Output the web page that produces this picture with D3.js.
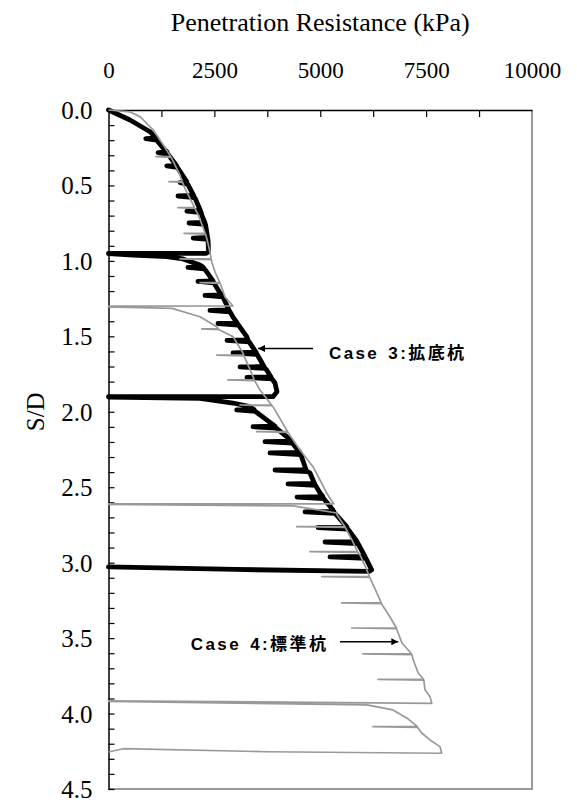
<!DOCTYPE html>
<html>
<head>
<meta charset="utf-8">
<script src="https://cdn.jsdelivr.net/npm/d3@7"></script>
<style>
  body { margin: 0; background: #fff; }
  svg { display: block; }
  .note { font-family: "Liberation Sans", Arial, "Noto Sans CJK JP", sans-serif; font-weight: bold; font-size: 17px; letter-spacing: 2.4px; word-spacing: 2px; }
</style>
</head>
<body>
<svg id="chart" width="577" height="804"></svg>
<script>
// Case 3 (拡底杭): [resistance kPa, S/D]
const case3 = [
  [0, 0], [508, 0.066], [980, 0.144],
  [1120, 0.186], [880, 0.19], [1140, 0.2],
  [1294, 0.254],
  [1380, 0.278], [1170, 0.282], [1400, 0.292],
  [1600, 0.366], [1375, 0.37], [1625, 0.38],
  [1846, 0.475], [1690, 0.482], [1870, 0.492],
  [2010, 0.566], [1640, 0.57], [2030, 0.58],
  [2042, 0.583],
  [2170, 0.666], [1850, 0.67], [2190, 0.68],
  [2200, 0.696],
  [2275, 0.745], [1900, 0.749], [2290, 0.758],
  [2318, 0.806],
  [2340, 0.845], [2000, 0.849], [2350, 0.858],
  [2356, 0.895], [2361, 0.94], [2300, 0.95], [0, 0.95],
  // reload 2
  [0, 0.952], [579, 0.961], [1374, 0.972], [1759, 0.987],
  [2160, 1.027], [2231, 1.04], [1877, 1.043], [2260, 1.052],
  [2318, 1.072],
  [2467, 1.133], [2113, 1.136], [2490, 1.146],
  [2633, 1.213],
  [2680, 1.226], [2278, 1.229], [2700, 1.238],
  [2845, 1.325], [2396, 1.328], [2870, 1.338],
  [2940, 1.372],
  [3040, 1.412], [2585, 1.415], [3070, 1.425],
  [3263, 1.502],
  [3294, 1.524], [2798, 1.527], [3320, 1.537],
  [3483, 1.605], [2940, 1.61], [3510, 1.62],
  [3672, 1.7], [3105, 1.703], [3700, 1.713],
  [3735, 1.723],
  [3837, 1.769], [3270, 1.772], [3860, 1.782],
  [3931, 1.809], [3978, 1.867], [3884, 1.9], [0, 1.9],
  // reload 3
  [0, 1.902], [2160, 1.911], [2940, 1.942], [3341, 1.966],
  [3435, 1.985], [3027, 1.988], [3470, 1.998],
  [3735, 2.054],
  [3931, 2.096], [3412, 2.099], [3960, 2.109],
  [4207, 2.165],
  [4309, 2.195], [3695, 2.198], [4340, 2.208],
  [4522, 2.27], [3813, 2.273], [4540, 2.283],
  [4663, 2.383], [3931, 2.386], [4700, 2.396],
  [4758, 2.406],
  [4864, 2.475], [4238, 2.478], [4890, 2.488],
  [4994, 2.538],
  [5060, 2.562], [4451, 2.565], [5080, 2.575],
  [5301, 2.651],
  [5320, 2.661], [4640, 2.664], [5350, 2.674],
  [5624, 2.761],
  [5630, 2.764], [4947, 2.767], [5650, 2.777],
  [5868, 2.86], [5112, 2.863], [5890, 2.873],
  [6056, 2.959], [5230, 2.962], [6080, 2.972],
  [6214, 3.048], [6150, 3.058], [3000, 3.045], [0, 3.028]
];

// Case 4 (標準杭)
const case4 = [
  [0, 0], [508, 0.013], [744, 0.044], [1058, 0.133], [1294, 0.232],
  [1470, 0.309], [1121, 0.309], [1480, 0.314],
  [1492, 0.32], [1688, 0.431],
  [1740, 0.475], [1428, 0.475], [1750, 0.48],
  [1806, 0.519], [1964, 0.608],
  [2030, 0.647], [1641, 0.647], [2040, 0.652],
  [2120, 0.696], [2239, 0.784],
  [2280, 0.817], [1783, 0.817], [2290, 0.822],
  [2319, 0.85], [2396, 0.939],
  [2425, 0.987], [1688, 0.987], [2430, 0.992],
  [2436, 1.005], [2514, 1.072],
  [2630, 1.144], [2160, 1.144], [2640, 1.15],
  [2751, 1.239], [2940, 1.299], [0, 1.3],
  // reload 2
  [0, 1.305], [1500, 1.315], [2160, 1.37], [2555, 1.436],
  [2600, 1.451], [2201, 1.451], [2610, 1.456],
  [2940, 1.502], [3176, 1.61],
  [3190, 1.624], [2555, 1.624], [3200, 1.629],
  [3412, 1.767],
  [3440, 1.789], [2821, 1.789], [3450, 1.794],
  [3577, 1.856],
  [3850, 1.955], [3105, 1.955], [3860, 1.96],
  [3884, 1.966], [4207, 2.121],
  [4230, 2.132], [3499, 2.132], [4240, 2.137],
  [4522, 2.253], [4829, 2.364], [4994, 2.452], [5152, 2.538], [5301, 2.605], [5320, 2.611], [0, 2.611],
  // reload 3
  [0, 2.614], [4357, 2.624], [5389, 2.671], [5399, 2.684],
  [5584, 2.761], [4443, 2.761], [5590, 2.766],
  [5750, 2.85],
  [5880, 2.927], [4758, 2.927], [5890, 2.932],
  [5939, 2.949], [6080, 3.035],
  [6160, 3.092], [5034, 3.092], [6165, 3.097],
  [6175, 3.101], [6411, 3.247],
  [6440, 3.267], [5506, 3.267], [6445, 3.272],
  [6647, 3.36],
  [6800, 3.433], [5742, 3.433], [6805, 3.438],
  [6812, 3.446], [6930, 3.532],
  [7160, 3.605], [6009, 3.605], [7165, 3.61],
  [7197, 3.645], [7315, 3.733],
  [7440, 3.773], [6363, 3.773], [7445, 3.778],
  [7474, 3.843], [7592, 3.888], [7632, 3.932], [0, 3.915],
  // reload 4
  [0, 3.92], [6097, 3.943], [6717, 3.976], [7041, 4.029],
  [7290, 4.085], [6245, 4.087], [7300, 4.092],
  [7395, 4.129], [7592, 4.175], [7828, 4.219], [7867, 4.263],
  [3735, 4.253], [350, 4.233], [0, 4.255]
];

const xTicks = [0, 1250, 2500, 3750, 5000, 6250, 7500, 8750, 10000];
const xLabels = [0, 2500, 5000, 7500, 10000];
const yTicks = d3.range(0, 46).map(i => i / 10);
const yLabels = [0, 0.5, 1, 1.5, 2, 2.5, 3, 3.5, 4, 4.5];

// annotations: text position and arrow, in data units
const notes = [
  { label: "Case 3:拡底杭", tx: 5206, ty: 1.65, anchor: "start", x1: 4829, x2: 3530, ay: 1.58 },
  { label: "Case 4:標準杭", tx: 5190, ty: 3.579, anchor: "end", x1: 5466, x2: 6843, ay: 3.524 }
];

const serif = "'Liberation Serif', 'Times New Roman', 'DejaVu Serif', serif";

const margin = { top: 110, left: 108.5, right: 45, bottom: 15 };
const width = 577 - margin.left - margin.right;
const height = 804 - margin.top - margin.bottom;

const svg = d3.select("#chart");
const g = svg.append("g").attr("transform", `translate(${margin.left},${margin.top})`);

const x = d3.scaleLinear().domain([0, 10000]).range([0, width]);
const y = d3.scaleLinear().domain([0, 4.5]).range([0, height]);

// right / bottom frame in grey
g.append("path")
  .attr("d", `M${x(0)},${y(4.5)}H${x(10000)}V${y(0)}`)
  .attr("fill", "none")
  .attr("stroke", "#9a9a9a")
  .attr("stroke-width", 2);

// top axis
const xAxis = g.append("g")
  .call(d3.axisTop(x)
    .tickValues(xTicks)
    .tickSizeInner(-7)
    .tickSizeOuter(0)
    .tickPadding(32)
    .tickFormat(d => xLabels.includes(d) ? d : ""));
xAxis.attr("font-family", serif).attr("font-size", 23);
xAxis.select(".domain").attr("stroke-width", 1.5);
xAxis.selectAll(".tick line").attr("stroke-width", 1.2);
xAxis.selectAll(".tick").filter(d => d === 0 || d === 10000).select("line").remove();

// left axis
const yAxis = g.append("g")
  .call(d3.axisLeft(y)
    .tickValues(yTicks)
    .tickSizeInner(-6)
    .tickSizeOuter(0)
    .tickPadding(16)
    .tickFormat(d => yLabels.some(v => Math.abs(v - d) < 1e-6) ? d3.format(".1f")(d) : ""));
yAxis.attr("font-family", serif).attr("font-size", 25);
yAxis.select(".domain").attr("stroke-width", 1.5);
yAxis.selectAll(".tick line").attr("stroke-width", 1.2);
yAxis.selectAll(".tick text").attr("dy", "0.34em");

const line = d3.line()
  .x(d => x(d[0]))
  .y(d => y(d[1]));

g.append("path")
  .datum(case3)
  .attr("d", line)
  .attr("fill", "none")
  .attr("stroke", "#000")
  .attr("stroke-width", 4.8)
  .attr("stroke-linejoin", "round")
  .attr("stroke-linecap", "round");

g.append("path")
  .datum(case4)
  .attr("d", line)
  .attr("fill", "none")
  .attr("stroke", "#999")
  .attr("stroke-width", 1.7)
  .attr("stroke-linejoin", "round");

// arrows + labels
svg.append("defs").append("marker")
  .attr("id", "head")
  .attr("viewBox", "0 0 10 10")
  .attr("refX", 10).attr("refY", 5)
  .attr("markerWidth", 11).attr("markerHeight", 7)
  .attr("markerUnits", "userSpaceOnUse")
  .attr("orient", "auto")
  .append("path")
  .attr("d", "M0,0L10,5L0,10Z")
  .attr("fill", "#000");

notes.forEach(n => {
  g.append("line")
    .attr("x1", x(n.x1)).attr("x2", x(n.x2))
    .attr("y1", y(n.ay)).attr("y2", y(n.ay))
    .attr("stroke", "#000")
    .attr("stroke-width", 1.5)
    .attr("marker-end", "url(#head)");
  g.append("text")
    .attr("class", "note")
    .attr("x", x(n.tx))
    .attr("y", y(n.ty))
    .attr("text-anchor", n.anchor)
    .text(n.label);
});

// axis titles
svg.append("text")
  .attr("font-family", serif)
  .attr("font-size", 26)
  .attr("x", margin.left + x(5000))
  .attr("y", 31)
  .attr("text-anchor", "middle")
  .text("Penetration Resistance (kPa)");

svg.append("text")
  .attr("font-family", serif)
  .attr("font-size", 25)
  .attr("transform", `translate(44,${margin.top + y(2)}) rotate(-90)`)
  .attr("text-anchor", "middle")
  .text("S/D");
</script>
</body>
</html>
